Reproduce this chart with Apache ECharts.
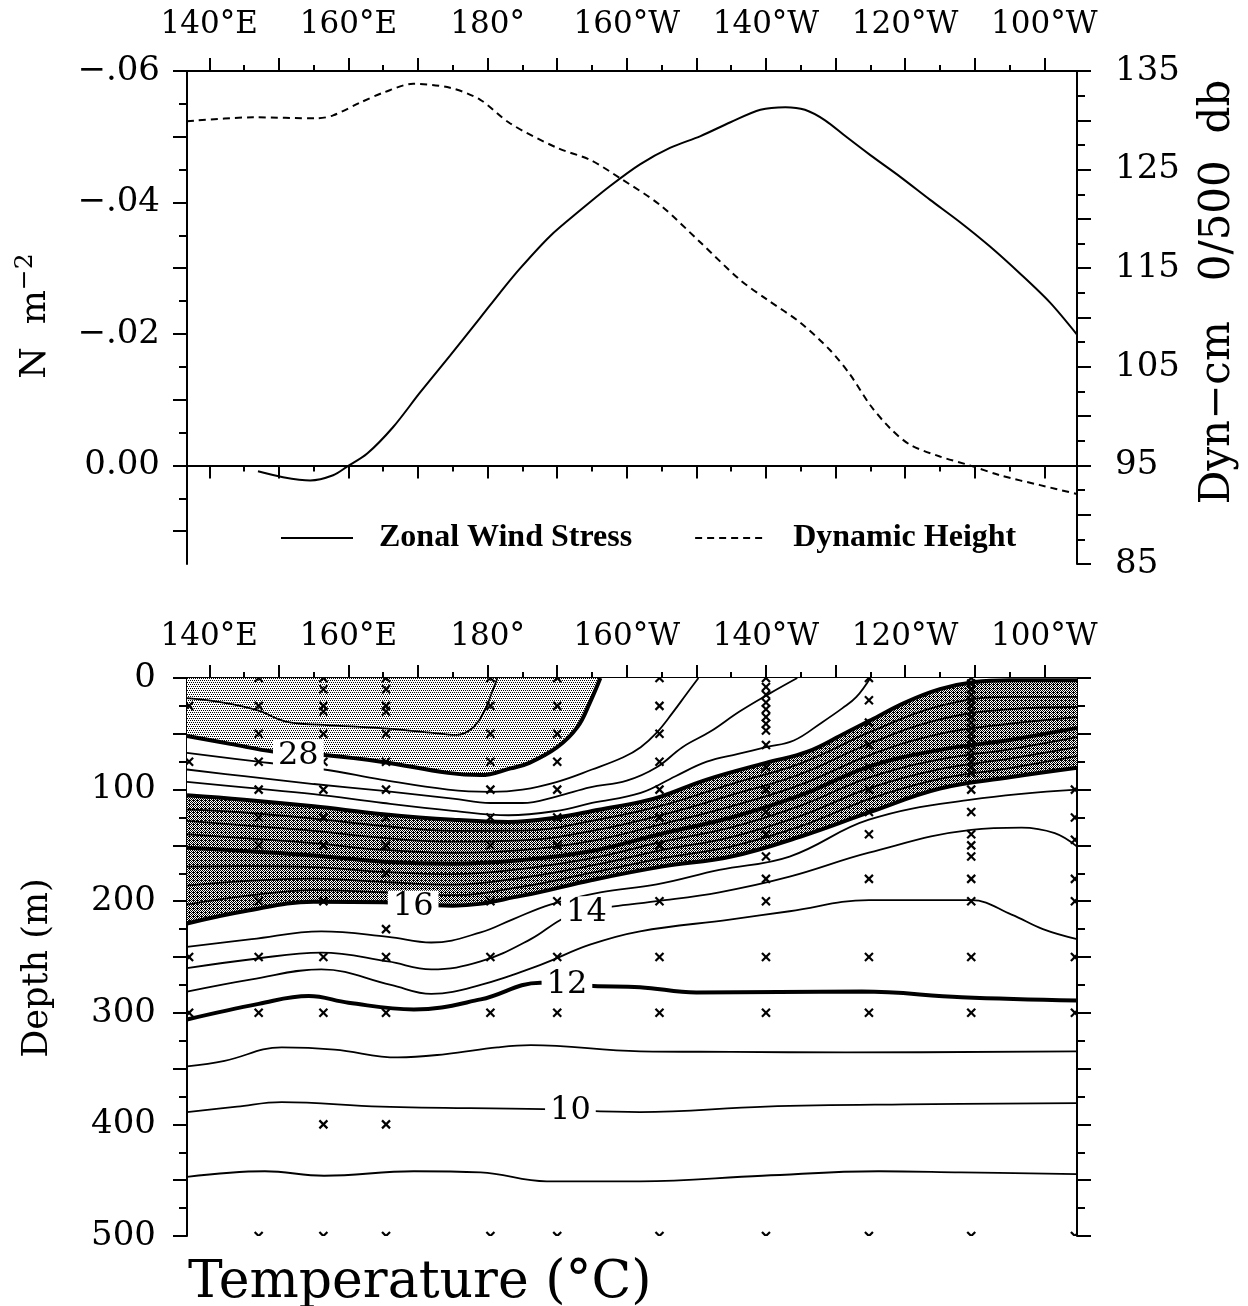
<!DOCTYPE html>
<html><head><meta charset="utf-8">
<script src="https://cdn.jsdelivr.net/npm/echarts@6/dist/echarts.min.js"></script>
<style>html,body{margin:0;padding:0;background:#fff}#c{width:1248px;height:1306px}</style>
</head><body><div id="c"></div>
<script>
// ---------------- DATA ----------------
const lonMin = 136.8, lonMax = 264.7;
const lonTicks = [140,150,160,170,180,190,200,210,220,230,240,250,260];
const lonLabelVals = [140,160,180,200,220,240,260];
const stressTicks = [-0.06,-0.05,-0.04,-0.03,-0.02,-0.01,0,0.01];
const stressLabelVals = [-0.06,-0.04,-0.02,0];
const dynLabelVals = [85,95,105,115,125,135];
const depthLabelVals = [0,100,200,300,400,500];

// top panel: zonal wind stress (N m-2) and dynamic height (dyn-cm)
const windLon = [147.0,150.6,154.5,157.8,159.8,162.7,166.4,170.3,174.6,178.9,181.8,184.7,189.0,193.3,197.6,201.9,206.2,210.6,214.9,219.2,222.8,225.6,228.5,231.4,235.0,239.3,243.6,247.9,252.2,256.5,260.8,264.7];
const windStress = [0.0009,0.0018,0.0023,0.0015,0.0002,-0.0018,-0.0058,-0.0111,-0.0167,-0.0224,-0.0263,-0.0300,-0.0349,-0.0388,-0.0425,-0.0458,-0.0483,-0.0501,-0.0522,-0.0541,-0.0545,-0.0541,-0.0525,-0.0501,-0.0472,-0.0439,-0.0404,-0.0370,-0.0333,-0.0292,-0.0248,-0.0199];
const dynLon = [136.8,146.3,155.5,157.8,161.7,165.0,169.3,174.6,178.9,183.2,190.0,194.7,199.1,204.8,210.6,216.3,220.2,224.9,229.2,232.1,235.0,237.8,240.7,245.0,249.3,253.6,259.4,264.7];
const dynHeight = [129.9,130.3,130.2,130.5,131.8,132.8,133.7,133.3,132.1,129.7,127.2,126.0,124.1,121.4,117.6,113.8,111.8,109.5,106.7,104.2,101.1,98.8,97.1,95.9,95.0,94.0,93.0,92.1];

// bottom panel: isotherm depths (m) along longitude (deg east)
const iso29 = [[136.8,18],[142,22],[147,29],[151,39],[156.5,42],[164.7,45],[171.8,49],[175.5,51],[177.8,45],[179.5,30],[180.5,15],[181.4,0]];
const iso28 = [[136.8,52],[143,59],[149.4,66],[156.5,69],[164.7,75],[174.3,85],[179,87],[183.3,81],[186,76],[190,62],[192.9,44],[194.7,22],[196.2,0]];
const iso27 = [[136.8,67],[147,75],[156.5,82],[164.7,91],[174.3,100],[180.4,102],[185,100],[190,93],[195,82],[199.5,71],[202,62],[204.3,49],[206.6,31],[208.5,15],[210.3,0]];
const iso26 = [[136.8,82],[145,88],[155,95],[164.7,101],[175,108],[180.4,112],[185,112],[190,106],[194.7,98],[200,92],[204.3,80],[208,62],[212,48],[216.2,30],[220.5,14],[224.5,0]];
const iso25 = [[136.8,93],[145,98],[155,104],[165,112],[175,119],[183,123],[190,119],[195,112],[202,103],[207,88],[211.5,75],[216,68],[220,62],[224,56],[228,40],[231,27],[233,17],[235,0]];
const iso24 = [[136.8,105],[145,109],[155,115],[165,122],[175,127],[183,129],[190,125],[196,118],[202,111],[205,106],[211.5,91],[220,76],[226,66],[231.5,49],[235,38],[240,22],[245,10],[250,3.5],[255,2],[264.7,2]];
const bandLon = [136.8,145,155,165,175,185,195,205,215,225,235,245,255,264.7];
const iso23 = [118,120.5,126,132.6,136.9,136.8,128,114.4,95,76.5,48.3,25,17,17];
const iso22 = [128,132,137,143.3,146.7,145.5,137,122.8,105,86,58.5,37,28,26];
const iso21 = [140,143.5,148,154,156.6,154.3,146,131,115,95.5,68.8,50,41,35];
const iso20 = [152,155,159,164.6,166.4,163,155,139.5,125,105,79,64.4,55.5,44.7];
const iso19 = [169,168.5,169.4,173.7,175.8,171,161.5,146.9,133.8,114.3,88.8,73,63.9,53];
const iso18 = [186,182,179.8,182.8,185.2,179,168,154.3,142.5,123.5,98.5,81.7,72.3,62];
const iso17 = [203,195.5,190,192,194.6,187,174.5,161.6,151,132.8,108,90.3,80.7,70];
const iso16 = [220,209,200.5,201,204,195,181,169,160,142,120,99,89,80.5];
const iso15 = [[136.8,241],[146.1,234],[156.1,227],[165.7,232],[171.9,237],[179,228],[183.7,216],[189,203],[196.2,192],[204.3,185],[213.3,172],[223.4,160],[234.8,127],[249.5,109],[264.7,100]];
const iso14 = [[136.8,260],[146.1,252],[156.1,246],[165.7,254],[171.9,261],[179,254],[186.2,234],[190.4,217],[193.7,208],[197.6,205],[204.3,200],[213.3,192],[223.4,178],[234.8,156.5],[249.5,136],[256.7,134],[261.5,139],[264.7,151]];
const iso13 = [[136.8,281],[146.1,270],[156.1,261],[166.1,275],[171.9,283],[179,275],[187.6,257],[194.7,239],[201.9,227],[214.8,216.5],[223.4,209],[234.8,199],[249.5,199],[255.3,212],[259.8,225],[264.7,234]];
const iso12 = [[136.8,306],[147.1,292],[154.3,285],[160,291],[169.4,297],[179,288],[187.6,273],[191.6,274.6],[195.2,276],[201.9,277],[210,281.7],[233.8,281],[248.1,286],[264.7,289]];
const iso11 = [[136.8,348],[142.2,343],[150.4,331],[158,333],[167.1,340],[174,337],[181.4,331],[186.2,329],[201.9,334.5],[215,335],[231.5,335.5],[264.7,334.5]];
const iso10 = [[136.8,389],[144,384],[150.4,380],[164.7,384],[188,386.4],[201.9,389],[220,384],[240,382],[264.7,381]];
const iso9  = [[136.8,447],[148,442],[156.5,446],[169.4,442],[179,443],[188.5,451],[201.9,451],[219.5,446],[236.2,442],[248,443],[264.7,444.5]];

// contour labels
const contourLabelText = ['28','16','14','12','10'];
const contourLabelLon = [152.8,169.3,194.2,191.4,191.9];
const contourLabelDepth = [70,205,210,275,388];

// station sample positions (x marks)
const stationLons = [137.1,147.1,156.4,165.4,180.4,190,204.7,220,234.8,249.5,264.4];
const st137 = [25,75,250,300];
const st147 = [0,25,50,75,100,125,150,200,250,300,500];
const st156 = [0,10,25,30,50,75,100,125,150,200,250,300,400,500];
const st165 = [0,10,25,30,50,75,100,125,150,175,225,250,300,400,500];
const st180 = [0,25,50,75,100,125,150,200,250,300,500];
const st190 = [0,25,50,75,100,125,150,200,250,300,500];
const st205 = [0,25,50,75,100,125,150,200,250,300,500];
const st220 = [0,8,15,22,28,35,41,47,60,80,100,120,140,160,180,200,250,300,500];
const st235 = [0,20,40,60,80,100,120,140,180,250,300,500];
const st250 = [0,5,10,15,20,25,30,35,40,45,50,55,60,65,70,75,80,85,100,120,140,150,160,180,200,250,300,500];
const st264 = [100,125,145,180,200,250,300,500];
const stationDepths = [st137,st147,st156,st165,st180,st190,st205,st220,st235,st250,st264];

// ---------------- BUILD ----------------
const F = 'DejaVu Serif';
const thick = [28,24,20,16,12];

function makePattern(size, cells) {
  const c = document.createElement('canvas');
  c.width = size; c.height = size;
  const g = c.getContext('2d');
  g.fillStyle = '#fff'; g.fillRect(0,0,size,size);
  g.fillStyle = '#000';
  cells.forEach(p => g.fillRect(p[0], p[1], 1, 1));
  return c;
}
const lightPat = makePattern(4, [[0,0],[2,0],[1,2],[3,2]]);
const darkPat = makePattern(4, [[0,0],[2,0],[1,1],[3,1],[0,2],[2,2],[1,3],[3,3],[1,0]]);

const bandPairs = arr => bandLon.map((x,i) => [x, arr[i]]);
const isotherms = [
  [29, iso29],[28, iso28],[27, iso27],[26, iso26],[25, iso25],[24, iso24],
  [23, bandPairs(iso23)],[22, bandPairs(iso22)],[21, bandPairs(iso21)],[20, bandPairs(iso20)],
  [19, bandPairs(iso19)],[18, bandPairs(iso18)],[17, bandPairs(iso17)],[16, bandPairs(iso16)],
  [15, iso15],[14, iso14],[13, iso13],[12, iso12],[11, iso11],[10, iso10],[9, iso9]
];

function lonFmt(v) {
  v = Math.round(v);
  if (v < 180) return v + '°E';
  if (v === 180) return '180°';
  return (360 - v) + '°W';
}

const axLine = {lineStyle:{color:'#000', width:2}};
const xLbl = {color:'#000', fontFamily:F, fontSize:31};
const yLbl = {color:'#000', fontFamily:F, fontSize:34};

function xAx(grid, pos, labels, margin) {
  return {
    gridIndex: grid, type:'value', position: pos, min: lonMin, max: lonMax,
    minInterval: 10, maxInterval: 10, splitNumber: 13,
    axisLine: axLine,
    axisTick: {show:true, customValues: lonTicks, length: 13, lineStyle:{color:'#000', width:2}},
    minorTick: {show:true, splitNumber: 2, length: 6, lineStyle:{color:'#000', width:2}},
    axisLabel: labels ? Object.assign({show:true, customValues: lonLabelVals, margin: margin, formatter: lonFmt}, xLbl) : {show:false},
    splitLine: {show:false}, minorSplitLine:{show:false}
  };
}

const series = [];
series.push({
  name:'Zonal Wind Stress', type:'line', xAxisIndex:0, yAxisIndex:0,
  data: windLon.map((x,i) => [x, windStress[i]]), smooth:0.3, symbol:'none',
  lineStyle:{color:'#000', width:2}, itemStyle:{color:'#000'}, z:5,
  markLine:{silent:true, symbol:'none', label:{show:false}, lineStyle:{color:'#000', width:1.5, type:'solid'}, data:[{yAxis:0}]}
});
series.push({
  name:'Dynamic Height', type:'line', xAxisIndex:0, yAxisIndex:1,
  data: dynLon.map((x,i) => [x, dynHeight[i]]), smooth:0.3, symbol:'none',
  lineStyle:{color:'#000', width:2, type:[7,5]}, itemStyle:{color:'#000'}, z:5
});

// fills
const fillDefs = [[bandPairs(iso16), {image: darkPat, repeat:'repeat'}, 1],
                  [iso24, '#ffffff', 2],
                  [iso28, {image: lightPat, repeat:'repeat'}, 3]];
fillDefs.forEach(d => series.push({
  type:'line', xAxisIndex:2, yAxisIndex:2, data:d[0], smooth:0.4, symbol:'none', silent:true,
  lineStyle:{width:0, opacity:0}, areaStyle:{color:d[1], opacity:1, origin:'start'}, z:d[2]
}));

// contour lines
isotherms.forEach(it => series.push({
  type:'line', xAxisIndex:2, yAxisIndex:2, data: it[1], smooth:0.4, symbol:'none', silent:true,
  lineStyle:{color:'#000', width: thick.indexOf(it[0]) >= 0 ? 4 : 1.8}, z:5
}));

// station crosses (clipped to the plot area like the original)
const crossData = [];
stationLons.forEach((lon,i) => stationDepths[i].forEach(d => crossData.push([lon, d])));
series.push({
  type:'custom', xAxisIndex:2, yAxisIndex:2, data: crossData, silent:true, clip:true, z:8,
  renderItem: function (params, api) {
    const p = api.coord([api.value(0), api.value(1)]);
    const s = 4;
    const st = {stroke:'#000', lineWidth:2.2};
    return {type:'group', children:[
      {type:'line', shape:{x1:p[0]-s, y1:p[1]-s, x2:p[0]+s, y2:p[1]+s}, style:st},
      {type:'line', shape:{x1:p[0]-s, y1:p[1]+s, x2:p[0]+s, y2:p[1]-s}, style:st}
    ]};
  }
});

// contour labels
series.push({
  type:'scatter', xAxisIndex:2, yAxisIndex:2, silent:true,
  data: contourLabelText.map((t,i) => ({name:t, value:[contourLabelLon[i], contourLabelDepth[i]]})),
  symbolSize:1, itemStyle:{color:'rgba(0,0,0,0)', opacity:1},
  label:{show:true, position:'inside', formatter:'{b}', color:'#000', fontFamily:F, fontSize:32,
         backgroundColor:'#fff', padding:[0,5], opacity:1},
  z:10
});

const option = {
  animation:false,
  backgroundColor:'#fff',
  grid:[{left:187, top:71, width:890, height:493}, {left:187, top:678, width:890, height:558}],
  xAxis:[xAx(0,'bottom',false), xAx(0,'top',true,31), xAx(1,'top',true,26), xAx(1,'bottom',false)],
  yAxis:[
    {gridIndex:0, type:'value', position:'left', inverse:true, min:-0.06, max:0.015, interval:0.01,
     axisLine:axLine, splitLine:{show:false},
     axisTick:{show:true, customValues:stressTicks, length:14, lineStyle:{color:'#000', width:2}},
     minorTick:{show:true, splitNumber:2, length:8, lineStyle:{color:'#000', width:2}},
     axisLabel:Object.assign({customValues:stressLabelVals, margin:27, formatter: v => {
        const k = Math.round(v*100); return k === 0 ? '0.00' : '−.0' + Math.abs(k); }}, yLbl)},
    {gridIndex:0, type:'value', position:'right', min:85, max:135, interval:5,
     axisLine:axLine, splitLine:{show:false},
     axisTick:{show:true, length:14, lineStyle:{color:'#000', width:2}},
     minorTick:{show:true, splitNumber:2, length:8, lineStyle:{color:'#000', width:2}},
     axisLabel:Object.assign({customValues:dynLabelVals, margin:38}, yLbl)},
    {gridIndex:1, type:'value', position:'left', inverse:true, min:0, max:500, interval:50,
     axisLine:axLine, splitLine:{show:false},
     axisTick:{show:true, length:14, lineStyle:{color:'#000', width:2}},
     minorTick:{show:true, splitNumber:2, length:8, lineStyle:{color:'#000', width:2}},
     axisLabel:Object.assign({customValues:depthLabelVals, margin:31}, yLbl)},
    {gridIndex:1, type:'value', position:'right', inverse:true, min:0, max:500, interval:50,
     axisLine:axLine, splitLine:{show:false},
     axisTick:{show:true, length:14, lineStyle:{color:'#000', width:2}},
     minorTick:{show:true, splitNumber:2, length:8, lineStyle:{color:'#000', width:2}},
     axisLabel:{show:false}}
  ],
  legend:{
    data:['Zonal Wind Stress','Dynamic Height'], left:280, top:522, padding:0,
    itemWidth:72, itemHeight:14, itemGap:62, selectedMode:false,
    itemStyle:{opacity:0},
    textStyle:{color:'#000', fontFamily:'Liberation Serif', fontSize:32, fontWeight:'bold', padding:[0,0,0,21]}
  },
  graphic:[
    {type:'text', x:36, y:316, rotation:Math.PI/2, silent:true,
     style:{text:'{a|N  m}{b|−2}', align:'center', verticalAlign:'middle', fill:'#000',
            rich:{a:{fontSize:36, fontFamily:F, fill:'#000', lineHeight:46}, b:{fontSize:25, fontFamily:F, fill:'#000', verticalAlign:'top'}}}},
    {type:'text', x:1218, y:292, rotation:Math.PI/2, silent:true,
     style:{text:'Dyn−cm   0/500  db', align:'center', verticalAlign:'middle', fill:'#000', font:'42px "DejaVu Serif"'}},
    {type:'text', x:38, y:968, rotation:Math.PI/2, silent:true,
     style:{text:'Depth (m)', align:'center', verticalAlign:'middle', fill:'#000', font:'35px "DejaVu Serif"'}},
    {type:'text', x:188, y:1283, silent:true,
     style:{text:'Temperature (°C)', align:'left', verticalAlign:'middle', fill:'#000', font:'52px "DejaVu Serif"'}}
  ],
  series: series
};

const chart = echarts.init(document.getElementById('c'), null, {renderer:'canvas'});
chart.setOption(option);
</script></body></html>
